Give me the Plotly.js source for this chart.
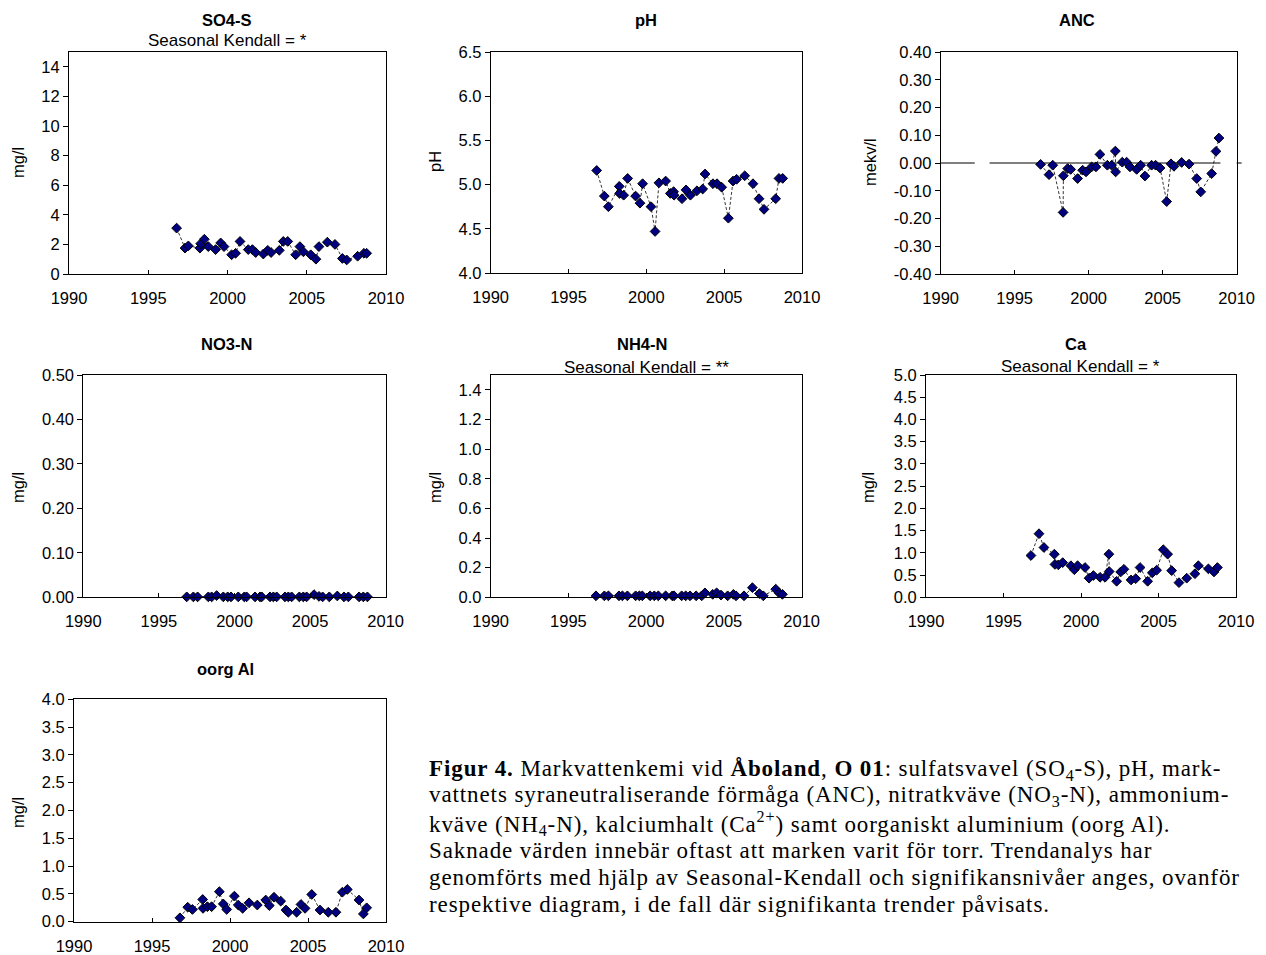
<!DOCTYPE html>
<html>
<head>
<meta charset="utf-8">
<script src="https://cdn.plot.ly/plotly-3.0.1.min.js"></script>
<style>
  html, body { margin: 0; padding: 0; background: #ffffff; }
  #chart { width: 1266px; height: 955px; }
  text[style*="Liberation Serif"] { letter-spacing: 0.9px; }
</style>
</head>
<body>
<div id="chart"></div>
<script>
// ---------------- DATA ----------------
const so4Year = [1996.79,1997.32,1997.53,1998.26,1998.31,1998.54,1998.79,1999.25,1999.57,1999.78,2000.26,2000.51,2000.79,2001.31,2001.57,2001.78,2002.26,2002.54,2002.75,2003.27,2003.52,2003.80,2004.30,2004.57,2004.79,2005.25,2005.58,2005.77,2006.30,2006.78,2007.25,2007.52,2008.21,2008.61,2008.78];
const so4Val  = [3.10,1.75,1.90,1.75,2.05,2.35,1.85,1.65,2.10,1.85,1.30,1.40,2.20,1.65,1.65,1.45,1.35,1.60,1.45,1.60,2.20,2.20,1.30,1.85,1.50,1.30,1.00,1.85,2.15,2.00,1.05,0.95,1.20,1.40,1.40];

const phYear = [1996.81,1997.30,1997.56,1998.26,1998.28,1998.54,1998.80,1999.31,1999.59,1999.76,2000.30,2000.56,2000.81,2001.24,2001.54,2001.75,2001.78,2002.29,2002.55,2002.83,2003.25,2003.62,2003.77,2004.28,2004.54,2004.84,2005.27,2005.57,2005.80,2006.32,2006.85,2007.24,2007.56,2008.31,2008.52,2008.76];
const phVal  = [5.16,4.87,4.75,4.98,4.90,4.88,5.07,4.87,4.79,5.01,4.75,4.47,5.02,5.04,4.90,4.92,4.88,4.84,4.94,4.88,4.93,4.95,5.12,5.01,5.01,4.97,4.62,5.04,5.06,5.10,5.01,4.84,4.72,4.84,5.07,5.07];

const ancYear = [1996.75,1997.32,1997.57,1998.27,1998.29,1998.58,1998.78,1999.25,1999.59,1999.82,2000.20,2000.49,2000.76,2001.26,2001.55,2001.80,2001.82,2002.27,2002.56,2002.79,2003.24,2003.51,2003.80,2004.25,2004.52,2004.82,2005.27,2005.56,2005.76,2006.28,2006.78,2007.30,2007.57,2008.31,2008.60,2008.80];
const ancVal  = [-0.005,-0.042,-0.008,-0.178,-0.046,-0.020,-0.023,-0.056,-0.026,-0.032,-0.014,-0.014,0.031,-0.008,-0.008,0.043,-0.032,0.003,0.003,-0.014,-0.023,-0.008,-0.047,-0.008,-0.008,-0.018,-0.139,-0.003,-0.012,0.002,-0.004,-0.056,-0.104,-0.038,0.042,0.090];
const ancRefYear = [1990, 1992.3, null, 1993.3, 2008.9];
const ancRefVal  = [0, 0, null, 0, 0];
const ancTickVals = [-0.4,-0.3,-0.2,-0.1,0,0.1,0.2,0.3,0.4];
const ancTickText = ["-0.40","-0.30","-0.20","-0.10","0.00","0.10","0.20","0.30","0.40"];

const no3Year = [1996.84,1997.28,1997.56,1998.27,1998.49,1998.82,1999.26,1999.55,1999.77,2000.25,2000.65,2000.80,2001.36,2001.69,2001.80,2002.35,2002.57,2002.79,2003.34,2003.56,2003.78,2004.29,2004.55,2004.77,2005.26,2005.59,2005.83,2006.27,2006.80,2007.24,2007.53,2008.24,2008.52,2008.79];
const no3Val  = [0.001,0.001,0.001,0.001,0.001,0.004,0.001,0.001,0.001,0.001,0.001,0.001,0.001,0.001,0.001,0.001,0.001,0.001,0.001,0.001,0.001,0.001,0.001,0.001,0.006,0.002,0.001,0.001,0.003,0.001,0.001,0.001,0.001,0.001];

const nh4Year = [1996.77,1997.31,1997.57,1998.25,1998.47,1998.79,1999.32,1999.56,1999.75,2000.25,2000.52,2000.78,2001.25,2001.68,2001.79,2002.28,2002.54,2002.82,2003.21,2003.57,2003.78,2004.28,2004.53,2004.81,2005.24,2005.61,2005.78,2006.29,2006.83,2007.28,2007.53,2008.33,2008.54,2008.76];
const nh4Val  = [0.01,0.01,0.01,0.01,0.01,0.01,0.01,0.01,0.01,0.01,0.01,0.01,0.01,0.01,0.01,0.01,0.01,0.01,0.01,0.01,0.03,0.02,0.03,0.015,0.01,0.02,0.01,0.01,0.065,0.025,0.01,0.055,0.03,0.02];

const caYear = [1996.77,1997.29,1997.61,1998.28,1998.32,1998.54,1998.82,1999.35,1999.57,1999.78,2000.26,2000.52,2000.80,2001.23,2001.55,2001.80,2001.82,2002.30,2002.56,2002.77,2003.23,2003.53,2003.81,2004.30,2004.60,2004.88,2005.31,2005.59,2005.85,2006.32,2006.82,2007.35,2007.57,2008.22,2008.58,2008.80];
const caVal  = [0.94,1.43,1.12,0.97,0.74,0.73,0.78,0.71,0.62,0.71,0.67,0.43,0.49,0.45,0.45,0.97,0.58,0.36,0.57,0.63,0.39,0.42,0.67,0.36,0.55,0.61,1.07,0.97,0.60,0.33,0.43,0.53,0.71,0.64,0.57,0.67];

const alYear = [1996.79,1997.29,1997.59,1998.25,1998.27,1998.55,1998.82,1999.32,1999.57,1999.79,2000.28,2000.53,2000.81,2001.22,2001.75,2002.29,2002.52,2002.82,2003.25,2003.59,2003.74,2004.27,2004.55,2004.81,2005.24,2005.77,2006.30,2006.79,2007.20,2007.52,2008.27,2008.55,2008.76];
const alVal  = [0.07,0.26,0.22,0.40,0.24,0.27,0.27,0.54,0.32,0.22,0.46,0.30,0.24,0.34,0.30,0.39,0.29,0.44,0.37,0.21,0.17,0.17,0.31,0.24,0.49,0.21,0.17,0.17,0.53,0.58,0.39,0.14,0.25];

const panelTitles    = ["SO4-S","pH","ANC","NO3-N","NH4-N","Ca","oorg Al"];
const panelSubtitles = ["Seasonal Kendall = *","","","","Seasonal Kendall = **","Seasonal Kendall = *",""];
const panelUnits     = ["mg/l","pH","mekv/l","mg/l","mg/l","mg/l","mg/l"];

const captionLines = [
  "<b>Figur 4.</b> Markvattenkemi vid <b>Åboland</b>, <b>O 01</b>: sulfatsvavel (SO<sub>4</sub>-S), pH, mark-",
  "vattnets syraneutraliserande förmåga (ANC), nitratkväve (NO<sub>3</sub>-N), ammonium-",
  "kväve (NH<sub>4</sub>-N), kalciumhalt (Ca<sup>2+</sup>) samt oorganiskt aluminium (oorg Al).",
  "Saknade värden innebär oftast att marken varit för torr. Trendanalys har",
  "genomförts med hjälp av Seasonal-Kendall och signifikansnivåer anges, ovanför",
  "respektive diagram, i de fall där signifikanta trender påvisats."
];

// ---------------- LAYOUT CONFIG (pixels) ----------------
const W = 1266, H = 955;
const FONT = '"Liberation Sans", Arial, sans-serif';
const SERIF = '"Liberation Serif", "Times New Roman", serif';

// plot boxes: [left, right, top, bottom]
const boxes = [
  [69, 386, 52, 274],
  [490.7, 802, 52, 273],
  [940.7, 1236.7, 52, 274],
  [83.3, 385.7, 375, 597.3],
  [490.7, 801.7, 375, 597.3],
  [926, 1236, 375, 597.3],
  [74, 386, 699.3, 921.7]
];
const yRanges = [[0,15],[4,6.5],[-0.4,0.4],[0,0.5],[0,1.5],[0,5],[0,4]];
const yDticks = [2,0.5,0.1,0.1,0.2,0.5,0.5];
const yFormats = ["d",".1f",".2f",".2f",".1f",".1f",".1f"];
const titlePos = [[227,20],[646,20],[1077,20],[226,344],[642,344],[1076,344],[225,669]];
const subPos   = [[227,40],null,null,null,[646,367],[1080,366],null];
const unitPos  = [[18,163],[435,162],[870,162],[18,488],[435,488],[868,488],[18,813]];
const captionX = 427;
const captionY = [770, 796, 823, 850, 877, 904];

const px = x => x / W;
const py = y => 1 - y / H;

const seriesX = [so4Year, phYear, ancYear, no3Year, nh4Year, caYear, alYear];
const seriesY = [so4Val, phVal, ancVal, no3Val, nh4Val, caVal, alVal];

const traces = [];
const layout = {
  width: W, height: H,
  margin: {l:0, r:0, t:0, b:0},
  paper_bgcolor: '#ffffff',
  plot_bgcolor: '#ffffff',
  showlegend: false,
  font: {family: FONT, size: 16, color: '#000000'},
  annotations: [],
  shapes: []
};

for (let i = 0; i < 7; i++) {
  const n = i + 1;
  const xa = 'x' + (n === 1 ? '' : n);
  const ya = 'y' + (n === 1 ? '' : n);
  const b = boxes[i];
  layout['xaxis' + (n === 1 ? '' : n)] = {
    domain: [px(b[0]), px(b[1])],
    anchor: ya,
    range: [1990, 2010],
    tick0: 1990, dtick: 5,
    ticks: 'inside', ticklen: 4, tickwidth: 1, tickcolor: '#000',
    ticklabelstandoff: 9,
    showline: true, linecolor: '#000', linewidth: 1, mirror: true,
    showgrid: false, zeroline: false,
    tickfont: {family: FONT, size: 16.5, color: '#000'},
    fixedrange: true
  };
  const yax = {
    domain: [py(b[3]), py(b[2])],
    anchor: xa,
    range: yRanges[i],
    dtick: yDticks[i],
    tickformat: yFormats[i],
    ticks: 'outside', ticklen: 5, tickwidth: 1, tickcolor: '#000',
    showline: true, linecolor: '#000', linewidth: 1, mirror: true,
    showgrid: false, zeroline: false,
    tickfont: {family: FONT, size: 16.5, color: '#000'},
    fixedrange: true
  };
  if (i === 2) {
    yax.tickmode = 'array';
    yax.tickvals = ancTickVals;
    yax.ticktext = ancTickText;
  }
  layout['yaxis' + (n === 1 ? '' : n)] = yax;

  if (i === 2) {
    traces.push({
      type: 'scatter', mode: 'lines', x: ancRefYear, y: ancRefVal,
      xaxis: xa, yaxis: ya, connectgaps: false,
      line: {color: '#000', width: 1}, hoverinfo: 'skip'
    });
  }
  traces.push({
    type: 'scatter', mode: 'lines+markers',
    x: seriesX[i], y: seriesY[i], xaxis: xa, yaxis: ya,
    cliponaxis: false,
    line: {color: '#000', width: 0.8, dash: '3px,2px'},
    marker: {symbol: 'diamond', size: 7.5, color: '#000080', line: {color: '#000', width: 1}}
  });

  layout.annotations.push({
    xref: 'paper', yref: 'paper', x: px(titlePos[i][0]), y: py(titlePos[i][1]),
    xanchor: 'center', yanchor: 'middle', showarrow: false,
    text: '<b>' + panelTitles[i] + '</b>',
    font: {family: FONT, size: 16.5, color: '#000'}
  });
  if (subPos[i]) {
    layout.annotations.push({
      xref: 'paper', yref: 'paper', x: px(subPos[i][0]), y: py(subPos[i][1]),
      xanchor: 'center', yanchor: 'middle', showarrow: false,
      text: panelSubtitles[i],
      font: {family: FONT, size: 17, color: '#000'}
    });
  }
  layout.annotations.push({
    xref: 'paper', yref: 'paper', x: px(unitPos[i][0]), y: py(unitPos[i][1]),
    xanchor: 'center', yanchor: 'middle', showarrow: false, textangle: -90,
    text: panelUnits[i],
    font: {family: FONT, size: 16.5, color: '#000'}
  });
}

// small stub of the ANC zero line just outside the right frame
layout.shapes.push({
  type: 'line', xref: 'paper', yref: 'y3',
  x0: px(boxes[2][1]), x1: px(boxes[2][1] + 5), y0: 0, y1: 0,
  line: {color: '#000', width: 1}
});

captionLines.forEach((t, k) => {
  layout.annotations.push({
    xref: 'paper', yref: 'paper', x: px(captionX), y: py(captionY[k]),
    xanchor: 'left', yanchor: 'middle', align: 'left', showarrow: false,
    text: t,
    font: {family: SERIF, size: 23, color: '#000'}
  });
});

Plotly.newPlot('chart', traces, layout, {displayModeBar: false, staticPlot: true});
</script>
</body>
</html>
